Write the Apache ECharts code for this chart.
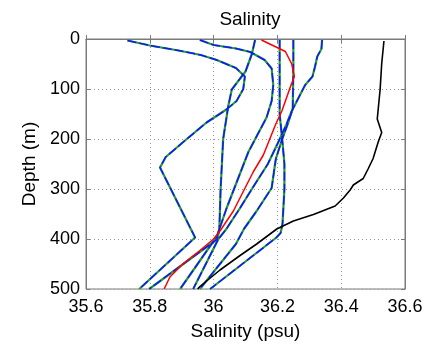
<!DOCTYPE html>
<html>
<head>
<meta charset="utf-8">
<script src="https://cdn.jsdelivr.net/npm/echarts@6/dist/echarts.min.js"></script>
<style>html,body{margin:0;padding:0;background:#fff}#c{width:439px;height:346px}</style>
</head>
<body>
<div id="c"></div>
<script>
const xTicks = [35.6, 35.8, 36.0, 36.2, 36.4, 36.6];
const yTicks = [0, 100, 200, 300, 400, 500];
// [salinity, depth]
const profileA = [[35.73,3],[35.8,13],[35.89,23],[35.96,32],[36.01,42],[36.07,58],[36.098,75],[36.093,100],[36.072,124],[36.04,141],[35.978,167],[35.916,200],[35.85,236],[35.832,257],[35.942,397],[35.767,500]];
const profileB = [[35.957,2],[36.0,12],[36.07,19],[36.115,26],[36.16,42],[36.182,59],[36.187,92],[36.182,124],[36.166,157],[36.109,226],[36.041,338],[36.01,395],[35.895,500]];
const profileC = [[36.13,2],[36.12,30],[36.1,65],[36.057,101],[36.046,134],[36.03,200],[36.022,300],[36.018,380],[36.012,400],[35.798,500]];
const profileD = [[36.207,2],[36.207,150],[36.215,200],[36.222,250],[36.222,300],[36.216,370],[36.21,388],[36.197,397],[35.989,500]];
const profileE = [[36.25,2],[36.25,60],[36.248,140],[36.235,165],[36.215,200],[36.195,240],[36.182,298],[36.135,344],[36.095,380],[36.07,410],[35.957,500]];
const profileF = [[36.34,2],[36.338,20],[36.325,35],[36.318,55],[36.31,75],[36.287,92],[36.266,118],[36.245,144],[36.229,170],[36.2,210],[36.17,250],[36.12,300],[36.083,338],[36.04,380],[36.015,400],[35.936,500]];
const profileRed = [[36.15,2],[36.225,25],[36.245,50],[36.253,75],[36.24,97],[36.214,144],[36.195,170],[36.156,232],[36.125,265],[36.093,305],[36.062,344],[36.02,384],[36.0,400],[35.957,423],[35.905,449],[35.863,476],[35.845,500]];
const profileBlack = [[36.534,4],[36.527,49],[36.522,101],[36.513,160],[36.527,187],[36.516,206],[36.5,239],[36.485,259],[36.469,279],[36.438,292],[36.428,302],[36.407,318],[36.381,334],[36.313,351],[36.25,364],[36.198,380],[36.135,410],[36.083,433],[36.02,462],[35.957,495],[35.95,500]];

const blueSets = [profileA, profileB, profileC, profileD, profileE, profileF];
const FONT = '"Liberation Sans", Arial, sans-serif';
const fmt = v => String(parseFloat(Number(v).toFixed(1)));

const series = [];
blueSets.forEach(d => {
  series.push({type:'line', data:d, showSymbol:false, silent:true, z:2,
    lineStyle:{color:'#1fa02f', width:2.2}});
});
blueSets.forEach(d => {
  series.push({type:'line', data:d, showSymbol:false, silent:true, z:3,
    lineStyle:{color:'#1414ff', width:1.5, type:[9,3]}});
});
series.push({type:'line', data:profileRed, showSymbol:false, silent:true, z:4, lineStyle:{color:'#ff0000', width:1.5}});
series.push({type:'line', data:profileBlack, showSymbol:false, silent:true, z:4, lineStyle:{color:'#000000', width:1.6}});

const chart = echarts.init(document.getElementById('c'), null, {renderer:'canvas'});
chart.setOption({
  animation:false,
  backgroundColor:'#ffffff',
  title:{text:'Salinity', left:245, top:5, textAlign:'center',
    textStyle:{fontFamily:FONT, fontSize:19, fontWeight:'normal', color:'#000'}},
  grid:{left:86, right:34, top:39, bottom:54, show:true, borderColor:'#7a7a7a', borderWidth:1, backgroundColor:'transparent'},
  xAxis:[{type:'value', min:xTicks[0], max:xTicks[xTicks.length-1], interval:0.2, position:'bottom',
    name:'Salinity (psu)', nameLocation:'middle', nameGap:33,
    nameTextStyle:{fontFamily:FONT, fontSize:19, color:'#000'},
    axisLine:{show:true, lineStyle:{color:'#7a7a7a'}},
    axisTick:{show:true, inside:true, length:4, lineStyle:{color:'#7a7a7a'}},
    axisLabel:{fontFamily:FONT, fontSize:18, color:'#000', margin:9, formatter:fmt},
    splitLine:{show:true, lineStyle:{color:'#9a9a9a', type:[1,3], width:1}}},
   {type:'value', min:xTicks[0], max:xTicks[xTicks.length-1], interval:0.2, position:'top',
    axisLine:{show:true, lineStyle:{color:'#7a7a7a'}},
    axisTick:{show:true, inside:true, length:4, lineStyle:{color:'#7a7a7a'}},
    axisLabel:{show:false}, splitLine:{show:false}}],
  yAxis:[{type:'value', inverse:true, min:yTicks[0], max:yTicks[yTicks.length-1], interval:100, position:'left',
    name:'Depth (m)', nameLocation:'middle', nameGap:46, nameRotate:90,
    nameTextStyle:{fontFamily:FONT, fontSize:19, color:'#000'},
    axisLine:{show:true, lineStyle:{color:'#7a7a7a'}},
    axisTick:{show:true, inside:true, length:4, lineStyle:{color:'#7a7a7a'}},
    axisLabel:{fontFamily:FONT, fontSize:18, color:'#000', margin:6},
    splitLine:{show:true, lineStyle:{color:'#9a9a9a', type:[1,3], width:1}}},
   {type:'value', inverse:true, min:yTicks[0], max:yTicks[yTicks.length-1], interval:100, position:'right',
    axisLine:{show:true, lineStyle:{color:'#7a7a7a'}},
    axisTick:{show:true, inside:true, length:4, lineStyle:{color:'#7a7a7a'}},
    axisLabel:{show:false}, splitLine:{show:false}}],
  series:series
});
</script>
</body>
</html>
